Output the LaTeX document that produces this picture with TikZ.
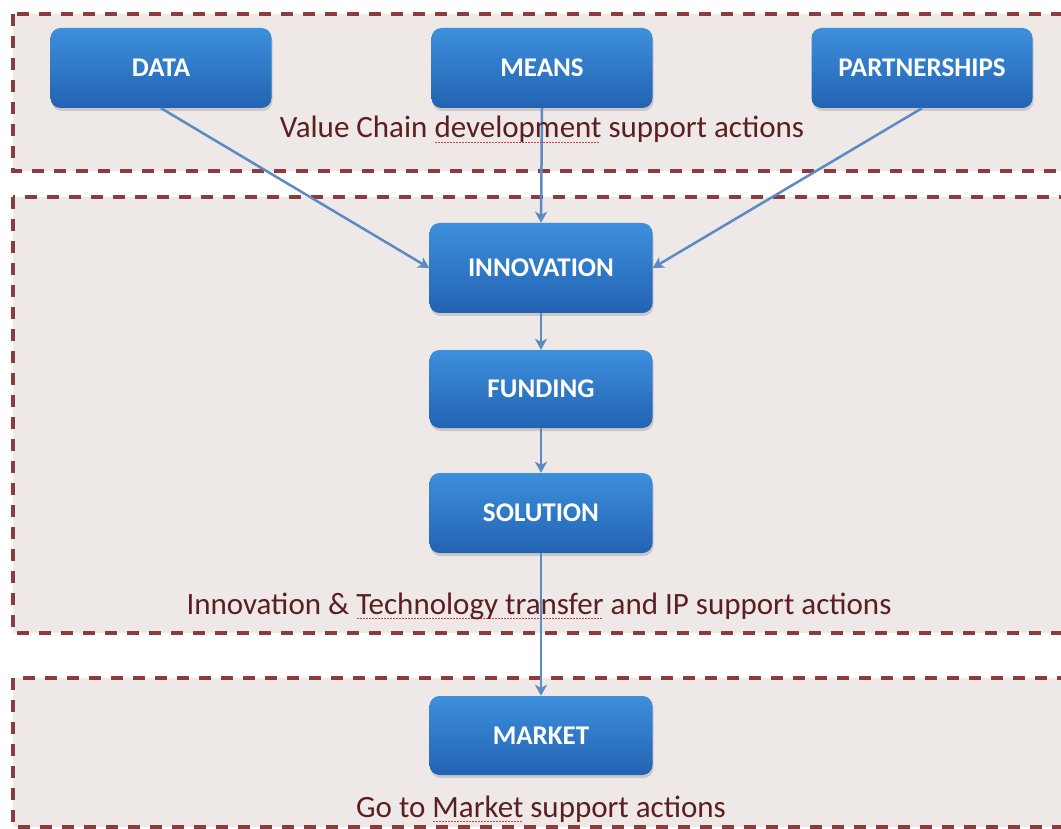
\documentclass[tikz,border=0pt]{standalone}
\usepackage{fontspec}
\setmainfont{Carlito}
\usetikzlibrary{arrows.meta,shadows}
\definecolor{panelfill}{HTML}{EEE8E7}
\definecolor{dashred}{HTML}{8A3C3E}
\definecolor{labelred}{HTML}{5B1F22}
\definecolor{boxtop}{HTML}{3D8FDC}
\definecolor{boxbot}{HTML}{2263B2}
\definecolor{arrowblue}{HTML}{5C8BC4}
\definecolor{squigred}{HTML}{D04040}
\newsavebox\spellbox
\newcommand\spellwave[1]{\sbox\spellbox{#1}\rlap{\color{squigred}\lower5pt\hbox to \wd\spellbox{\leaders\hbox to 3pt{\hss\vrule width 1.6pt height 1pt depth 0pt\hss}\hfill}}\usebox\spellbox}
\begin{document}
\begin{tikzpicture}[x=1pt,y=-1pt,
 panel/.style={draw=dashred, line width=3.5pt, dash pattern=on 12pt off 10pt, fill=panelfill},
 stepbox/.style={rounded corners=10pt, top color=boxtop, bottom color=boxbot, draw=none, text=white,
   font=\bfseries\fontsize{27}{31}\selectfont,
   drop shadow={shadow xshift=1pt, shadow yshift=-3pt, opacity=0.3}, inner sep=0pt},
 flow/.style={draw=arrowblue, line width=2.5pt, -{Stealth[length=11pt,width=12pt,inset=3pt]}},
 plabel/.style={text=labelred, font=\fontsize{31}{35}\selectfont, inner sep=0pt, anchor=base}
]
\useasboundingbox (0,0) rectangle (1061,829);
\fill[white] (0,0) rectangle (1061,829);
\clip (0,0) rectangle (1061,829);

\path[panel] (13,14) rectangle (1085,171);
\path[panel] (13,197) rectangle (1085,633);
\path[panel] (13,678) rectangle (1085,827);

\node[stepbox, minimum width=221pt, minimum height=80pt] (data) at (161,68) {DATA};
\node[stepbox, minimum width=221pt, minimum height=80pt] (means) at (542,68) {MEANS};
\node[stepbox, minimum width=221pt, minimum height=80pt] (partners) at (922,68) {PARTNERSHIPS};
\node[stepbox, minimum width=223pt, minimum height=90pt] (innov) at (541,268) {INNOVATION};
\node[stepbox, minimum width=223pt, minimum height=78pt] (fund) at (541,389) {FUNDING};
\node[stepbox, minimum width=223pt, minimum height=80pt] (sol) at (541,513) {SOLUTION};
\node[stepbox, minimum width=223pt, minimum height=79pt] (market) at (541,735.5) {MARKET};

\draw[flow] (data.south) -- (innov.west);
\draw[flow] (means.south) -- (innov.north);
\draw[flow] (partners.south) -- (innov.east);
\draw[flow] (innov.south) -- (fund.north);
\draw[flow] (fund.south) -- (sol.north);
\draw[flow] (sol.south) -- (market.north);

\node[plabel] (vclabel) at (542,138) {Value Chain \spellwave{development} support actions};
\node[plabel] (itlabel) at (539,614) {Innovation \& \spellwave{Technology transfer} and IP support actions};
\node[plabel] (gmlabel) at (541,817) {Go to \spellwave{Market} support actions};
\end{tikzpicture}
\end{document}
